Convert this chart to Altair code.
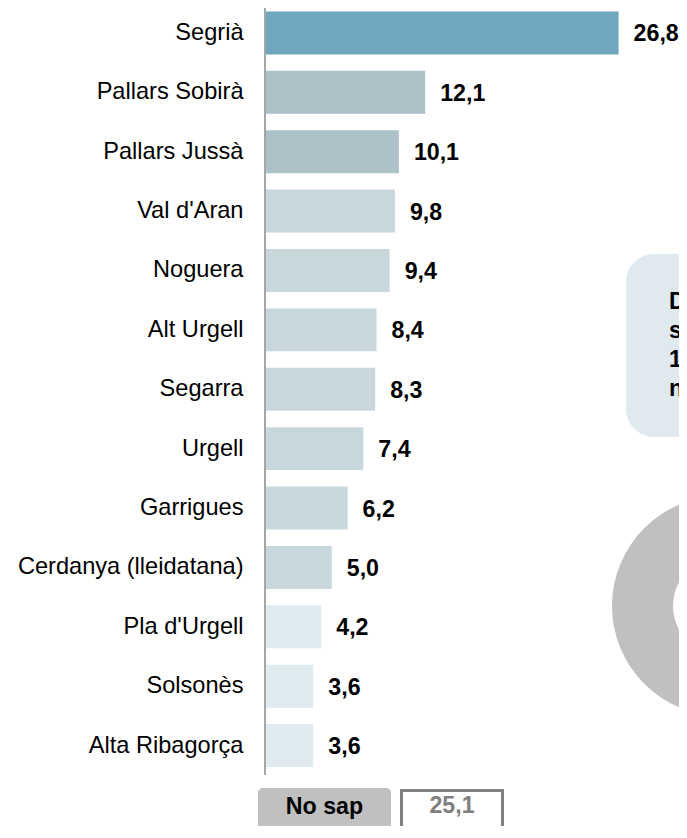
import math
import altair as alt
import pandas as pd

FONT = "Liberation Sans"

# ---- data ----
categories = ["Segrià", "Pallars Sobirà", "Pallars Jussà", "Val d'Aran", "Noguera",
              "Alt Urgell", "Segarra", "Urgell", "Garrigues", "Cerdanya (lleidatana)",
              "Pla d'Urgell", "Solsonès", "Alta Ribagorça"]
values = [26.8, 12.1, 10.1, 9.8, 9.4, 8.4, 8.3, 7.4, 6.2, 5.0, 4.2, 3.6, 3.6]
tiers = ["t1", "t2", "t2", "t3", "t3", "t3", "t3", "t3", "t3", "t3", "t4", "t4", "t4"]
no_sap_label = ["No sap"]
no_sap_value = [25.1]
side_text = ["D", "s", "1", "n"]


def fmt(v):
    return f"{v:.1f}".replace(".", ",")


df = pd.DataFrame({"cat": categories, "val": values, "tier": tiers,
                   "lab": [fmt(v) for v in values]})
one = pd.DataFrame({"k": [0]})
nosap_df = pd.DataFrame({"lab": no_sap_label})
nosap_val_df = pd.DataFrame({"lab": [fmt(v) for v in no_sap_value]})
side_df = pd.DataFrame({"lab": ["\n".join(side_text)]})

y = alt.Y("cat:N", sort=categories,
          scale=alt.Scale(range=[-4.7, 767.2], paddingInner=0.276, paddingOuter=0.138),
          axis=alt.Axis(title=None, domain=False, ticks=False, labelPadding=22,
                        labelFont=FONT, labelFontSize=23.6, labelColor="black",
                        labelLimit=400))
x = alt.X("val:Q", scale=alt.Scale(domain=[0, 32], range=[1, 422]), axis=None)

bars = alt.Chart(df).mark_bar().encode(
    x=x, y=y,
    color=alt.Color("tier:N",
                    scale=alt.Scale(domain=["t1", "t2", "t3", "t4"],
                                    range=["#6fa7bf", "#adc1c8", "#c8d7dc", "#e0ebf0"]),
                    legend=None),
)

labels = alt.Chart(df).mark_text(
    align="left", baseline="middle", dx=15, dy=1.5, font=FONT, fontSize=23.2,
    fontWeight="bold", color="black"
).encode(x=x, y=y, text="lab:N")

axis_line = alt.Chart(one).mark_rule(color="#a6a6a6", strokeWidth=2).encode(
    x=alt.value(0), y=alt.value(-5), y2=alt.value(767))

# bottom "No sap" boxes
nosap_box = alt.Chart(one).mark_rect(color="#c0c0c0", cornerRadius=5).encode(
    x=alt.value(-7), x2=alt.value(126), y=alt.value(780), y2=alt.value(845))
nosap_text = alt.Chart(nosap_df).mark_text(
    font=FONT, fontSize=23.2, fontWeight="bold", color="black", baseline="middle"
).encode(x=alt.value(59.5), y=alt.value(799), text="lab:N")
val_box = alt.Chart(one).mark_rect(fill="white", stroke="#808080", strokeWidth=3).encode(
    x=alt.value(136.5), x2=alt.value(237.5), y=alt.value(782.5), y2=alt.value(850))
val_text = alt.Chart(nosap_val_df).mark_text(
    font=FONT, fontSize=23.2, fontWeight="bold", color="#808080", baseline="middle"
).encode(x=alt.value(187), y=alt.value(798), text="lab:N")

# right-side decorations (cut off at the page edge, as in the reference)
side_box = alt.Chart(one).mark_rect(color="#e0eaee", cornerRadius=28).encode(
    x=alt.value(361), x2=alt.value(460), y=alt.value(246), y2=alt.value(429))
side_txt = alt.Chart(side_df).mark_text(
    font=FONT, fontSize=23.2, fontWeight="bold", color="black", align="left",
    baseline="alphabetic", lineBreak="\n", lineHeight=29
).encode(x=alt.value(404), y=alt.value(301), text="lab:N")
donut = alt.Chart(one).mark_arc(
    theta=0, theta2=2 * math.pi, radius=110, radius2=49, color="#c0c0c0"
).encode(x=alt.value(457), y=alt.value(598))

chart = alt.layer(
    side_box, side_txt, donut, bars, labels, axis_line,
    nosap_box, nosap_text, val_box, val_text
).properties(
    width=414, height=818,
    autosize=alt.AutoSizeParams(type="none"),
    padding={"left": 257, "top": 0, "right": 0, "bottom": 0},
).configure_view(strokeWidth=0)

chart.save("out.html", embed_options={"renderer": "svg", "actions": False})
